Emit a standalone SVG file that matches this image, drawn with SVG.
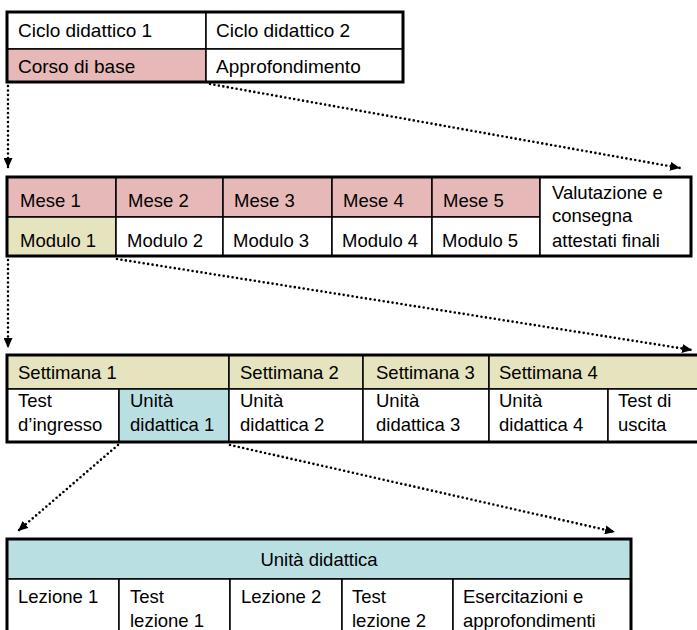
<svg xmlns="http://www.w3.org/2000/svg" width="697" height="630" viewBox="0 0 697 630">
<style>
text{font-family:"Liberation Sans",Arial,sans-serif;font-size:18.5px;fill:#000}
.big{font-size:19px}
.cell{stroke:#000;stroke-width:1.5}
.w{fill:#fff}.p{fill:#E6B9B8}.y{fill:#E6E4BE}.b{fill:#B9DFE3}
.outer{fill:none;stroke:#000;stroke-width:3}
.dot{fill:none;stroke:#000;stroke-width:2.6;stroke-linecap:round;stroke-dasharray:0 4.5;marker-end:url(#ah)}
</style>
<defs>
<marker id="ah" markerUnits="userSpaceOnUse" markerWidth="10" markerHeight="9" refX="10" refY="4.5" orient="auto" viewBox="0 0 10 9">
<path d="M0,0 L10,4.5 L0,9 z" fill="#000"/>
</marker>
</defs>
<rect width="697" height="630" fill="#fff"/>

<g id="cicli">
<g id="ciclo1"><rect class="cell w" x="7" y="12" width="199" height="37"/><text class="big" x="18" y="37">Ciclo didattico 1</text></g>
<g id="ciclo2"><rect class="cell w" x="206" y="12" width="197" height="37"/><text class="big" x="216" y="37">Ciclo didattico 2</text></g>
<g id="corso-base"><rect class="cell p" x="7" y="49" width="199" height="33"/><text class="big" x="18" y="73">Corso di base</text></g>
<g id="approfondimento"><rect class="cell w" x="206" y="49" width="197" height="33"/><text class="big" x="216" y="73">Approfondimento</text></g>
<rect class="outer" x="7" y="12" width="396" height="70"/>
</g>

<g id="mesi">
<g id="mese1"><rect class="cell p" x="7" y="177" width="109" height="40"/><text x="20" y="207">Mese 1</text></g>
<g id="mese2"><rect class="cell p" x="116" y="177" width="107" height="40"/><text x="128" y="207">Mese 2</text></g>
<g id="mese3"><rect class="cell p" x="223" y="177" width="109" height="40"/><text x="234" y="207">Mese 3</text></g>
<g id="mese4"><rect class="cell p" x="332" y="177" width="100" height="40"/><text x="343" y="207">Mese 4</text></g>
<g id="mese5"><rect class="cell p" x="432" y="177" width="108" height="40"/><text x="443" y="207">Mese 5</text></g>
<g id="modulo1"><rect class="cell y" x="7" y="217" width="109" height="39"/><text x="20" y="247">Modulo 1</text></g>
<g id="modulo2"><rect class="cell w" x="116" y="217" width="107" height="39"/><text x="127" y="247">Modulo 2</text></g>
<g id="modulo3"><rect class="cell w" x="223" y="217" width="109" height="39"/><text x="233" y="247">Modulo 3</text></g>
<g id="modulo4"><rect class="cell w" x="332" y="217" width="100" height="39"/><text x="342" y="247">Modulo 4</text></g>
<g id="modulo5"><rect class="cell w" x="432" y="217" width="108" height="39"/><text x="442" y="247">Modulo 5</text></g>
<g id="valutazione"><rect class="cell w" x="540" y="177" width="151" height="79"/><text x="552" y="199">Valutazione e</text><text x="552" y="222">consegna</text><text x="552" y="247">attestati finali</text></g>
<rect class="outer" x="7" y="177" width="684" height="79"/>
</g>

<g id="settimane">
<g id="settimana1"><rect class="cell y" x="7" y="355" width="222" height="34"/><text x="18" y="379">Settimana 1</text></g>
<g id="settimana2"><rect class="cell y" x="229" y="355" width="134" height="34"/><text x="240" y="379">Settimana 2</text></g>
<g id="settimana3"><rect class="cell y" x="363" y="355" width="126" height="34"/><text x="376" y="379">Settimana 3</text></g>
<g id="settimana4"><rect class="cell y" x="489" y="355" width="215" height="34"/><text x="499" y="379">Settimana 4</text></g>
<g id="test-ingresso"><rect class="cell w" x="7" y="389" width="112" height="53"/><text x="18" y="407">Test</text><text x="18" y="431">d’ingresso</text></g>
<g id="ud1"><rect class="cell b" x="119" y="389" width="110" height="53"/><text x="130" y="407">Unità</text><text x="130" y="431">didattica 1</text></g>
<g id="ud2"><rect class="cell w" x="229" y="389" width="134" height="53"/><text x="240" y="407">Unità</text><text x="240" y="431">didattica 2</text></g>
<g id="ud3"><rect class="cell w" x="363" y="389" width="126" height="53"/><text x="376" y="407">Unità</text><text x="376" y="431">didattica 3</text></g>
<g id="ud4"><rect class="cell w" x="489" y="389" width="119" height="53"/><text x="499" y="407">Unità</text><text x="499" y="431">didattica 4</text></g>
<g id="test-uscita"><rect class="cell w" x="608" y="389" width="96" height="53"/><text x="618" y="407">Test di</text><text x="618" y="431">uscita</text></g>
<rect class="outer" x="7" y="355" width="697" height="87"/>
</g>

<g id="unita">
<g id="ud-header"><rect class="cell b" x="7" y="539" width="624" height="40"/><text x="319" y="566" text-anchor="middle">Unità didattica</text></g>
<g id="lezione1"><rect class="cell w" x="7" y="579" width="112" height="60"/><text x="18" y="603">Lezione 1</text></g>
<g id="test-lezione1"><rect class="cell w" x="119" y="579" width="111" height="60"/><text x="130" y="603">Test</text><text x="130" y="627">lezione 1</text></g>
<g id="lezione2"><rect class="cell w" x="230" y="579" width="112" height="60"/><text x="241" y="603">Lezione 2</text></g>
<g id="test-lezione2"><rect class="cell w" x="342" y="579" width="111" height="60"/><text x="352" y="603">Test</text><text x="352" y="627">lezione 2</text></g>
<g id="esercitazioni"><rect class="cell w" x="453" y="579" width="178" height="60"/><text x="463" y="603">Esercitazioni e</text><text x="463" y="627">approfondimenti</text></g>
<rect class="outer" x="7" y="539" width="624" height="100"/>
</g>

<g id="connectors">
<path class="dot" d="M8,86 L8,168"/>
<path class="dot" d="M210,84 L680,168"/>
<path class="dot" d="M8,260 L8,348"/>
<path class="dot" d="M117,259 L692,350"/>
<path class="dot" d="M118,445 L18,531"/>
<path class="dot" d="M230,445 L615,532"/>
</g>
</svg>
